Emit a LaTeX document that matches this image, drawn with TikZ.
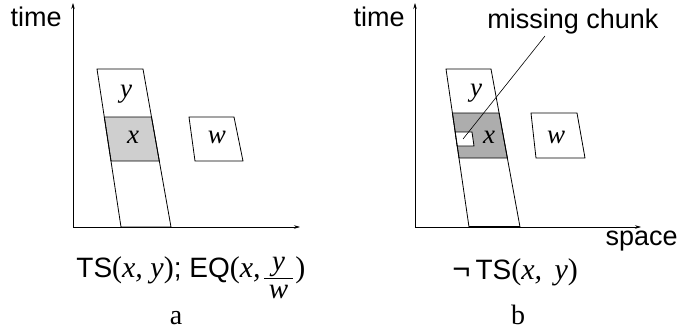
\documentclass[tikz,border=0pt]{standalone}
\usepackage{fontspec}
\setmainfont{Liberation Serif}
\setsansfont{Liberation Sans}
\usetikzlibrary{calc,arrows.meta,positioning}

\newcommand{\ital}[1]{{\fontsize{30}{32}\selectfont\rmfamily\itshape #1}}
\newcommand{\rpar}[1]{{\fontsize{30}{32}\selectfont\rmfamily #1}}

\begin{document}
\begin{tikzpicture}[x=1pt,y=-1pt,line width=0.8pt,
    axisline/.style={-{Stealth[length=6pt,width=3.5pt]},line width=0.6pt},
    axislabel/.style={font=\fontsize{27}{29}\selectfont\sffamily,inner sep=0pt},
    varlabel/.style={font=\fontsize{27}{29}\selectfont\itshape,inner sep=0pt,anchor=base},
    formula/.style={font=\fontsize{28}{30}\selectfont\sffamily,inner sep=0pt,anchor=base west},
    panellabel/.style={font=\fontsize{28}{30}\selectfont,inner sep=0pt,anchor=base}]

% Fix the page size
\useasboundingbox (0,0) rectangle (684,329);

% Define heights of the chunks
\def\xtopa{117}
\def\xbota{161}
\def\xtopb{113}
\def\xbotb{158}

%%%%% Panel a %%%%%

% Draw the axes
\coordinate (oa) at (73,227);
\coordinate (timetipa) at (73,3);
\coordinate (spacetipa) at (300,227);
\draw[axisline] (oa) -- (timetipa);
\draw[axisline] (oa) -- (spacetipa);
\node[axislabel,anchor=base east] (timea) at (62,27) {time};

% Draw the shaded chunk x
\draw[fill=black!19] (104.3,\xtopa) -- (151.5,\xtopa) -- (159.3,\xbota) -- (111,\xbota) -- cycle;

% Draw the strip holding y
\draw (97,69) -- (143,69) -- (171,227) -- (121,227) -- cycle;

% Draw the chunk w
\draw (189,\xtopa) -- (234,\xtopa) -- (243,\xbota) -- (195,\xbota) -- cycle;

% Labels inside the chunks
\node[varlabel] (ya) at (126,97) {y};
\node[varlabel] (xa) at (133,143) {x};
\node[varlabel] (wa) at (217,143) {w};

% Formula: TS(x, y); EQ(x, y/w)
\node[formula] (fa) at (76,277) {TS\rpar{(}\ital{x, y}\rpar{)}; EQ\rpar{(}\ital{x,}};
\coordinate (barl) at ($(fa.base east)+(3,1)$);
\coordinate (barr) at ($(barl)+(29,0)$);
\draw[line width=0.9pt] (barl) -- (barr);
\node[varlabel,font=\fontsize{29}{31}\selectfont\itshape] (fnum) at ($(barl)!0.5!(barr)+(0,-8)$) {y};
\node[varlabel,font=\fontsize{29}{31}\selectfont\itshape] (fden) at ($(barl)!0.5!(barr)+(0,20)$) {w};
\node[formula] (fclose) at ($(barr)+(2,-1)$) {\rpar{)}};

% Panel name
\node[panellabel] (pa) at (176,324) {a};

%%%%% Panel b %%%%%

% Draw the axes
\coordinate (ob) at (415,227);
\coordinate (timetipb) at (415,3);
\coordinate (spacetipb) at (641,227);
\draw[axisline] (ob) -- (timetipb);
\draw[axisline] (ob) -- (spacetipb);
\node[axislabel,anchor=base east] (timeb) at (405,27) {time};
\node[axislabel,anchor=base east] (spaceb) at (678,245) {space};

% Draw the shaded chunk x
\draw[fill=black!32] (452.4,\xtopb) -- (499.1,\xtopb) -- (507.4,\xbotb) -- (459,\xbotb) -- cycle;

% Draw the missing piece of x
\draw[fill=white] (455.2,132) -- (472,132) -- (474,146) -- (457.2,146) -- cycle;

% Draw the strip holding y
\draw (446,69) -- (491,69) -- (520,227) -- (469,227) -- cycle;
\draw[line width=1.3pt] (469,227) -- (520,227);

% Draw the chunk w
\draw (531,\xtopb) -- (577,\xtopb) -- (585,\xbotb) -- (536,\xbotb) -- cycle;

% Labels inside the chunks
\node[varlabel] (yb) at (476,96) {y};
\node[varlabel] (xb) at (489,143) {x};
\node[varlabel] (wb) at (556,143) {w};

% Pointer to the missing chunk
\node[axislabel,anchor=base west] (mchunk) at (487,29) {missing chunk};
\coordinate (mctail) at (545,36);
\coordinate (gap) at (463,139);
\draw[line width=0.6pt] (mctail) -- (gap);

% Formula: not TS(x, y)
\node[formula] (fb) at (452,279) {{\fontsize{31}{33}\selectfont ¬}\hspace{5pt}TS\rpar{(}\ital{x,\, y}\rpar{)}};

% Panel name
\node[panellabel] (pb) at (518,324) {b};

\end{tikzpicture}
\end{document}
